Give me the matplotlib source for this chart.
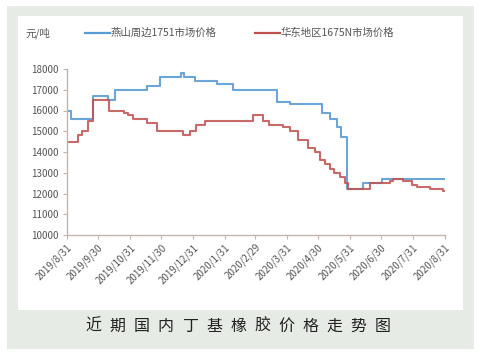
import matplotlib
matplotlib.use("Agg")
import matplotlib.pyplot as plt
from matplotlib.patches import Rectangle
import pandas as pd

plt.rcParams['font.family'] = ['Noto Sans CJK SC', 'DejaVu Sans']

# --- data: step change points (yuan/ton) ---
blue_dates = ["2019-08-31", "2019-09-04", "2019-09-25", "2019-10-10", "2019-10-16",
              "2019-11-16", "2019-11-29", "2019-12-19", "2019-12-22", "2020-01-02",
              "2020-01-23", "2020-02-08", "2020-03-21", "2020-04-03", "2020-05-04",
              "2020-05-12", "2020-05-18", "2020-05-22", "2020-05-28", "2020-06-13",
              "2020-07-01", "2020-08-31"]
blue_vals = [16000, 15600, 16700, 16500, 17000,
             17200, 17600, 17800, 17600, 17400,
             17300, 17000, 16400, 16300, 15900,
             15600, 15200, 14700, 12200, 12500,
             12700, 12700]

red_dates = ["2019-08-31", "2019-09-11", "2019-09-15", "2019-09-20", "2019-09-25",
             "2019-10-11", "2019-10-25", "2019-10-29", "2019-11-03", "2019-11-16",
             "2019-11-26", "2019-12-21", "2019-12-28", "2020-01-03", "2020-01-12",
             "2020-02-27", "2020-03-08", "2020-03-14", "2020-03-27", "2020-04-03",
             "2020-04-11", "2020-04-20", "2020-04-27", "2020-05-02", "2020-05-07",
             "2020-05-12", "2020-05-16", "2020-05-21", "2020-05-26", "2020-05-29",
             "2020-06-19", "2020-07-09", "2020-07-12", "2020-07-21", "2020-07-30",
             "2020-08-04", "2020-08-16", "2020-08-29", "2020-08-31"]
red_vals = [14500, 14800, 15000, 15500, 16500,
            16000, 15900, 15800, 15600, 15400,
            15000, 14800, 15000, 15300, 15500,
            15800, 15500, 15300, 15200, 15000,
            14600, 14200, 14000, 13600, 13400,
            13200, 13000, 12800, 12500, 12200,
            12500, 12600, 12700, 12600, 12400,
            12300, 12200, 12100, 12100]

tick_dates = ["2019-08-31", "2019-09-30", "2019-10-31", "2019-11-30", "2019-12-31",
              "2020-01-31", "2020-02-29", "2020-03-31", "2020-04-30", "2020-05-31",
              "2020-06-30", "2020-07-31", "2020-08-31"]
tick_labels = ["2019/8/31", "2019/9/30", "2019/10/31", "2019/11/30", "2019/12/31",
               "2020/1/31", "2020/2/29", "2020/3/31", "2020/4/30", "2020/5/31",
               "2020/6/30", "2020/7/31", "2020/8/31"]
y_ticks = [10000, 11000, 12000, 13000, 14000, 15000, 16000, 17000, 18000]

blue_name = "燕山周边1751市场价格"
red_name = "华东地区1675N市场价格"
unit = "元/吨"
caption = "近期国内丁基橡胶价格走势图"

W, H = 482, 354
fig = plt.figure(figsize=(W / 100, H / 100), dpi=100)
fig.patch.set_facecolor("white")

# gray frame and inner white box (behind everything)
fig.add_artist(Rectangle((7 / W, 1 - 349 / H), 467 / W, 343 / H,
                         transform=fig.transFigure, facecolor="#e7ebe5",
                         edgecolor="none", zorder=-10))
fig.add_artist(Rectangle((18 / W, 1 - 310 / H), 445 / W, 294 / H,
                         transform=fig.transFigure, facecolor="white",
                         edgecolor="none", zorder=-9))

ax = fig.add_axes([67 / W, 1 - 235 / H, 378 / W, 166 / H])
ax.set_zorder(5)
ax.set_facecolor("none")

bd = pd.to_datetime(blue_dates)
rd = pd.to_datetime(red_dates)
ax.step(bd, blue_vals, where="post", color="#5b9bd5", lw=1.5, alpha=0.9)
ax.step(rd, red_vals, where="post", color="#c0504d", lw=1.5, alpha=0.85)

ax.set_ylim(10000, 18000)
ax.set_xlim(pd.Timestamp("2019-08-31"), pd.Timestamp("2020-08-31"))
ax.set_yticks(y_ticks)
ax.set_yticklabels([str(v) for v in y_ticks], fontsize=7, color="#555555")
ax.set_xticks(pd.to_datetime(tick_dates))
ax.set_xticklabels(tick_labels, rotation=45, ha="right", rotation_mode="anchor",
                   fontsize=7, color="#555555")

for s in ["top", "right"]:
    ax.spines[s].set_visible(False)
for s in ["left", "bottom"]:
    ax.spines[s].set_color("#c4b4ac")
    ax.spines[s].set_linewidth(1.0)
ax.tick_params(axis="both", color="#c4b4ac", length=3, width=0.8, pad=2)
ax.tick_params(axis="y", pad=3)

# legend row
fig.text(25 / W, 1 - 33 / H, unit, fontsize=7.5, color="#555555", va="center")
fig.add_artist(plt.Line2D([85 / W, 110 / W], [1 - 33 / H] * 2, color="#5b9bd5", lw=1.6))
fig.text(111 / W, 1 - 33 / H, blue_name, fontsize=7.5, color="#555555", va="center")
fig.add_artist(plt.Line2D([255 / W, 280 / W], [1 - 33 / H] * 2, color="#c0504d", lw=1.6))
fig.text(281 / W, 1 - 33 / H, red_name, fontsize=7.5, color="#555555", va="center")

# caption with wide letter spacing
pitch = 24.1
x0 = 93.5
for i, ch in enumerate(caption):
    fig.text((x0 + i * pitch) / W, 1 - 326 / H, ch, fontsize=11.5, color="#222222",
             ha="center", va="center")

fig.savefig("out.png", dpi=100)
